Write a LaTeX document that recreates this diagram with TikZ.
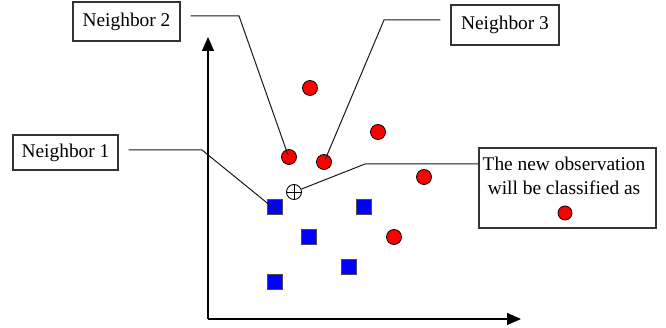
\documentclass[tikz,border=0pt]{standalone}
\usepackage{fontspec}
\setmainfont{Liberation Serif}
\usetikzlibrary{arrows.meta,calc}
\begin{document}
\begin{tikzpicture}[x=1pt,y=-1pt,
  lbl/.style={draw=black!80,line width=1.2pt,inner sep=0pt,font=\fontsize{19.4}{24.3}\selectfont},
  redpt/.style={circle,draw=black,line width=0.8pt,fill=red,minimum size=15pt,inner sep=0pt},
  bluept/.style={rectangle,draw=black!70,line width=0.8pt,fill=blue,minimum size=15.5pt,inner sep=0pt},
  conn/.style={line width=1pt,black!90},
  axis/.style={line width=1.3pt,-{Triangle[length=14pt,width=12pt]}}]
\useasboundingbox (0,0) rectangle (666,328);
% boxes
\node[lbl,minimum width=107pt,minimum height=39pt] (n2) at (126.5,21.5) {Neighbor 2};
\node[lbl,minimum width=108pt,minimum height=40pt] (n3) at (505,25) {Neighbor 3};
\node[lbl,minimum width=105pt,minimum height=35pt] (n1) at (65.5,152.5) {Neighbor 1};
\node[lbl,minimum width=177pt,minimum height=80pt] (rb) at (567.5,188) {};
\node[align=center,inner sep=0pt,font=\fontsize{19.4}{24.3}\selectfont,anchor=base] (rt) at (564,195) {The new observation\\will be classified as};
\node[redpt,minimum size=14pt] (rc) at (565,213) {};
% axes
\coordinate (o) at (208,319);
\coordinate (ytip) at (208,37);
\coordinate (xtip) at (521,319);
\draw[axis] (o) -- (ytip);
\draw[axis] (o) -- (xtip);
% red points
\node[redpt] (r1) at (310,88) {};
\node[redpt] (r2) at (289,157) {};
\node[redpt] (r3) at (324,162) {};
\node[redpt] (r4) at (378,132) {};
\node[redpt] (r5) at (424,177) {};
\node[redpt] (r6) at (394,237) {};
% blue points
\node[bluept] (b1) at (275,207) {};
\node[bluept] (b2) at (364,207) {};
\node[bluept] (b3) at (309,237) {};
\node[bluept] (b4) at (349,267) {};
\node[bluept] (b5) at (275,282) {};
% new observation
\node[circle,draw=black,line width=0.9pt,fill=white,minimum size=15pt,inner sep=0pt] (obs) at (294,192) {};
\draw[line width=0.9pt] (obs.north) -- (obs.south) (obs.west) -- (obs.east);
% connectors
\coordinate (k2) at (239,16);
\coordinate (k3) at (384,20);
\coordinate (k1) at (202,150);
\coordinate (ko) at (365,164);
\draw[conn] ([shift={(10,-5.5)}]n2.east) -- (k2) -- ([shift={(-1,-2)}]r2.center);
\draw[conn] ([shift={(-10,-5)}]n3.west) -- (k3) -- ([shift={(1,-2)}]r3.center);
\draw[conn] ([shift={(10,-2.5)}]n1.east) -- (k1) -- ([shift={(2,4)}]b1.center);
\draw[conn] (obs) -- (ko) -- (ko -| rb.west);
\end{tikzpicture}
\end{document}
